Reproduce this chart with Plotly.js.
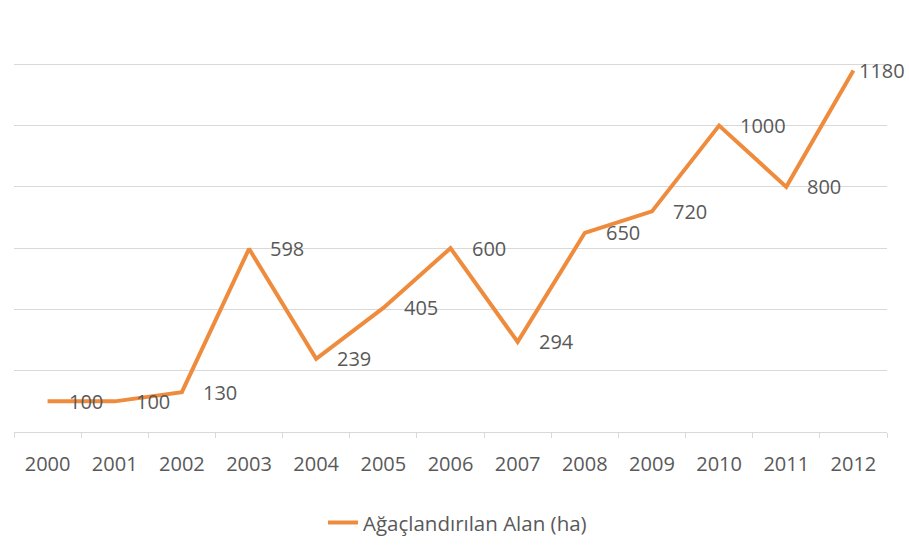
<!DOCTYPE html>
<html>
<head>
<meta charset="utf-8">
<script src="https://cdn.plot.ly/plotly-3.0.1.min.js"></script>
<style>html,body{margin:0;padding:0;background:#fff;}#chart{width:909px;height:557px;}</style>
</head>
<body>
<div id="chart"></div>
<script>
const years = ["2000","2001","2002","2003","2004","2005","2006","2007","2008","2009","2010","2011","2012"];
const areas = [100, 100, 130, 598, 239, 405, 600, 294, 650, 720, 1000, 800, 1180];
const seriesName = "Ağaçlandırılan Alan (ha)";

const fontFam = "'Open Sans', 'Noto Sans', sans-serif";
const grey = "#595959";

const annotations = years.map((y, i) => ({
  x: i, y: areas[i], xref: "x", yref: "y",
  text: String(areas[i]), showarrow: false,
  xanchor: "left", yanchor: "middle",
  xshift: i === years.length - 1 ? 4 : 19,
  font: {family: fontFam, size: 20, color: grey}
}));

Plotly.newPlot("chart", [{
  x: years, y: areas, type: "scatter", mode: "lines",
  name: seriesName,
  line: {color: "#EF8B3C", width: 4, shape: "linear"}
}], {
  width: 909, height: 557,
  margin: {l: 14, r: 22, t: 3, b: 125},
  paper_bgcolor: "#fff", plot_bgcolor: "#fff",
  font: {family: fontFam, size: 20, color: grey},
  showlegend: true,
  legend: {orientation: "h", x: 0.508, xanchor: "center", y: -0.165, yanchor: "top",
           font: {family: fontFam, size: 20.5, color: grey}},
  xaxis: {type: "category", range: [-0.5, 12.5], showgrid: false,
          showline: true, linecolor: "#d9d9d9", linewidth: 1,
          ticks: "outside", tickson: "boundaries", ticklen: 5, tickcolor: "#d9d9d9",
          ticklabelstandoff: 14,
          tickfont: {family: fontFam, size: 20, color: grey}, fixedrange: true},
  yaxis: {range: [0, 1400], dtick: 200, showgrid: true, gridcolor: "#d9d9d9",
          showticklabels: false, zeroline: false, showline: false, ticks: "", fixedrange: true},
  annotations: annotations
}, {displayModeBar: false, staticPlot: true});
</script>
</body>
</html>
